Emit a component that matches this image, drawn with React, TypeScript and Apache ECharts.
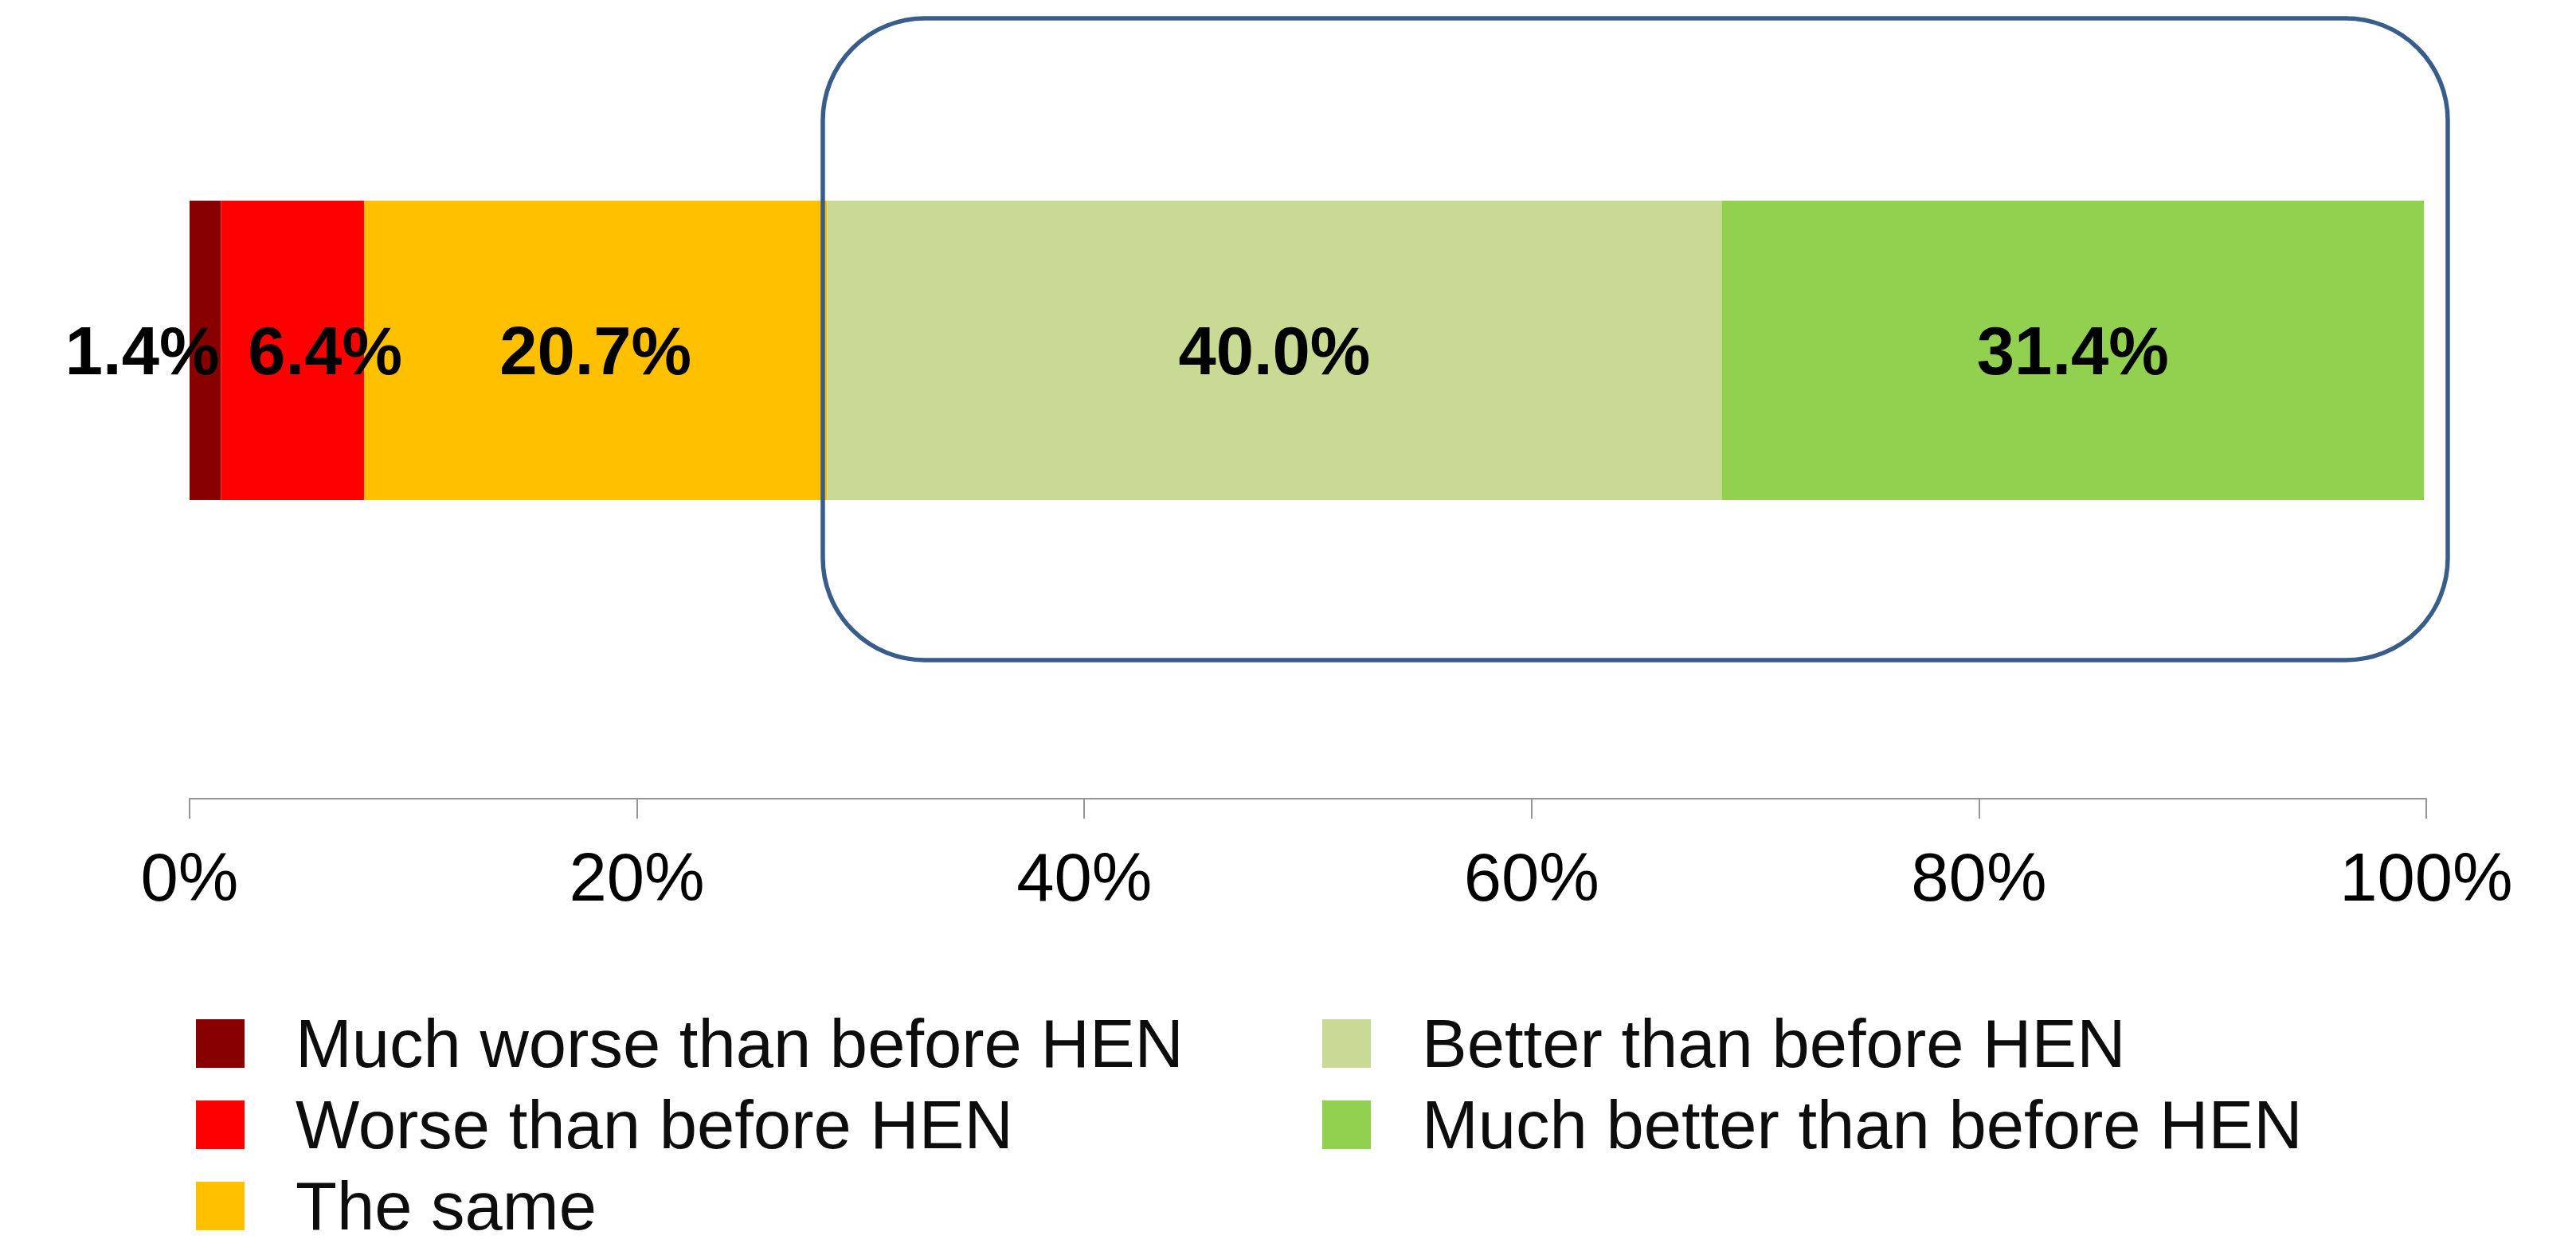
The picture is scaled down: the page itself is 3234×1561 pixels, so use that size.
import React, { useEffect, useRef } from "react";
import * as echarts from "echarts";

const categories = [""];
const seriesNames = [
  "Much worse than before HEN",
  "Worse than before HEN",
  "The same",
  "Better than before HEN",
  "Much better than before HEN",
];
const seriesValues = [1.4, 6.4, 20.7, 40.0, 31.4];
const seriesColors = ["#880000", "#FF0000", "#FFC000", "#C9DA95", "#92D050"];
const labelOffsets = [[-79, 0], [41, 0], [0, 0], [0, 0], [0, 0]];
const axisTicks = [0, 20, 40, 60, 80, 100];

const FONT = "'Liberation Sans', Arial, sans-serif";

export default function App() {
  const ref = useRef<HTMLDivElement>(null);

  useEffect(() => {
    if (!ref.current) return;
    const chart = echarts.init(ref.current, undefined, { renderer: "svg" });

    const series = seriesNames.map((name, i) => ({
      name,
      type: "bar",
      stack: "total",
      barWidth: 376,
      itemStyle: { color: seriesColors[i] },
      label: {
        show: true,
        position: "inside",
        offset: labelOffsets[i],
        formatter: (p: any) => `${Number(p.value).toFixed(1)}%`,
        fontSize: 85,
        fontWeight: "bold",
        fontFamily: FONT,
        color: "#000000",
      },
      data: categories.map(() => seriesValues[i]),
    }));

    const legendCommon = {
      orient: "vertical",
      icon: "rect",
      itemWidth: 61,
      itemHeight: 61,
      itemGap: 17,
      padding: 0,
      height: 500,
      selectedMode: false,
      textStyle: {
        fontSize: 85,
        fontFamily: FONT,
        color: "#0D0D0D",
        lineHeight: 61,
        padding: [0, 0, 0, 59],
      },
    };

    chart.setOption({
      animation: false,
      backgroundColor: "#ffffff",
      grid: { left: 238, width: 2808, top: 252, height: 376, containLabel: false },
      xAxis: {
        type: "value",
        min: axisTicks[0],
        max: axisTicks[axisTicks.length - 1],
        interval: axisTicks[1] - axisTicks[0],
        offset: 375,
        axisLine: { show: true, lineStyle: { color: "#969696", width: 2 } },
        axisTick: { show: true, length: 25, lineStyle: { color: "#969696", width: 2 } },
        splitLine: { show: false },
        axisLabel: {
          formatter: "{value}%",
          fontSize: 85,
          fontFamily: FONT,
          color: "#000000",
          margin: 56,
          showMinLabel: true,
          showMaxLabel: true,
        },
      },
      yAxis: {
        type: "category",
        data: categories,
        show: false,
      },
      legend: [
        { ...legendCommon, left: 246, top: 1268, data: seriesNames.slice(0, 3) },
        { ...legendCommon, left: 1660, top: 1268, data: seriesNames.slice(3) },
      ],
      graphic: [
        {
          type: "rect",
          z: 100,
          shape: { x: 1033, y: 23, width: 2040, height: 806, r: 128 },
          style: { fill: "none", stroke: "#385D8A", lineWidth: 5.5 },
        },
      ],
      series,
    });

    return () => chart.dispose();
  }, []);

  return (
    <div
      ref={ref}
      style={{ position: "fixed", left: 0, top: 0, width: 3234, height: 1561 }}
    />
  );
}
